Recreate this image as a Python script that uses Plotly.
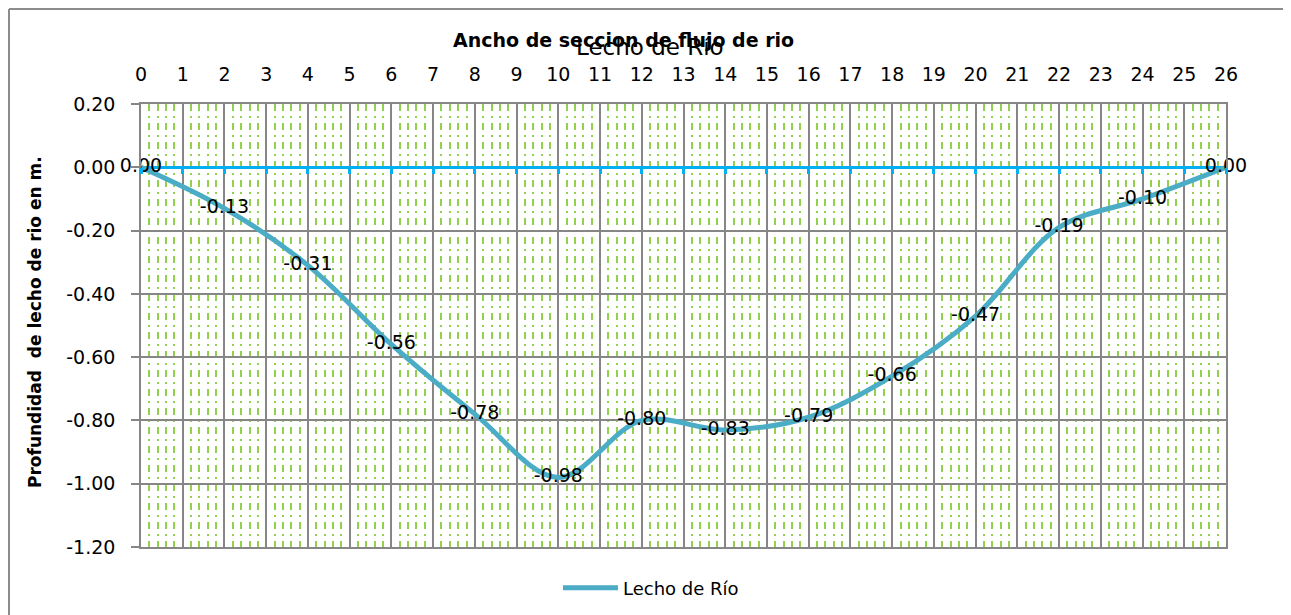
import plotly.graph_objects as go

# Data
ancho = [0, 2, 4, 6, 8, 10, 12, 14, 16, 18, 20, 22, 24, 26]
profundidad = [0.00, -0.13, -0.31, -0.56, -0.78, -0.98, -0.80, -0.83, -0.79, -0.66, -0.47, -0.19, -0.10, 0.00]
y_ticks = [0.2, 0.0, -0.2, -0.4, -0.6, -0.8, -1.0, -1.2]
y_tick_labels = ["0.20", "0.00", "-0.20", "-0.40", "-0.60", "-0.80", "-1.00", "-1.20"]
x_ticks = list(range(0, 27))
x_tick_labels = [str(v) for v in x_ticks]
serie_nombre = "Lecho de Río"
titulo = "Lecho de Río"
titulo_x = "Ancho de seccion de flujo de rio"
titulo_y = "Profundidad  de lecho de rio en m."

OFF = 8  # page body margin
W, H = 1291, 615
L, R, T, B = 141 - OFF, 1226 - OFF, 104 - OFF, 547 - OFF
PW, PH = R - L, B - T

def px_x(p):
    return (p - OFF - L) / PW

def px_y(p):
    return (B - (p - OFF)) / PH

FONT = "DejaVu Sans"
GRAY = "#868686"
BLUE = "#00B0F0"
TEAL = "#4BACC6"
GREEN = "#92D050"

fig = go.Figure()

fig.add_trace(go.Scatter(
    x=ancho, y=profundidad, name=serie_nombre,
    mode="lines+text",
    line=dict(color=TEAL, width=5, shape="spline", smoothing=1.0),
    text=[f"{v:.2f}" for v in profundidad],
    textposition="middle center",
    textfont=dict(family=FONT, size=19, color="#000000"),
    cliponaxis=False,
))

# invisible trace to carry the tick axis at y=0
fig.add_trace(go.Scatter(
    x=ancho, y=profundidad, xaxis="x2", mode="lines",
    line=dict(color="rgba(0,0,0,0)", width=0), showlegend=False, hoverinfo="skip",
))

fig.update_layout(
    width=W, height=H,
    margin=dict(l=L, r=W - R, t=T, b=H - B),
    paper_bgcolor="white", plot_bgcolor="white",
    font=dict(family=FONT, size=18, color="#000000"),
    showlegend=True,
    legend=dict(orientation="h", x=px_x(651), xanchor="center", y=px_y(588), yanchor="middle",
                font=dict(family=FONT, size=18), itemwidth=55),
    xaxis=dict(
        range=[0, 26], side="top", tickvals=x_ticks, ticktext=x_tick_labels,
        showgrid=True, gridcolor=GRAY, gridwidth=1.5,
        showline=True, mirror=True, linecolor=GRAY, linewidth=1.5,
        ticks="outside", ticklen=14, tickcolor="rgba(0,0,0,0)",
        tickfont=dict(family=FONT, size=19),
        zeroline=False,
        minor=dict(dtick=0.2, tick0=0, showgrid=True, gridcolor=GREEN, gridwidth=2,
                   griddash="7px,5px,2px,5px"),
    ),
    xaxis2=dict(
        matches="x", overlaying="x", side="bottom", anchor="free", position=1.2 / 1.4,
        dtick=1, tick0=0, showgrid=False, showline=False, zeroline=False,
        ticks="outside", ticklen=6, tickwidth=3, tickcolor=BLUE, showticklabels=False,
    ),
    yaxis=dict(
        range=[-1.2, 0.2], tickvals=y_ticks, ticktext=y_tick_labels,
        showgrid=True, gridcolor=GRAY, gridwidth=1.5,
        showline=True, mirror=True, linecolor=GRAY, linewidth=1.5,
        ticks="outside", ticklen=8, tickcolor=GRAY, tickwidth=1.5,
        ticklabelstandoff=12,
        tickfont=dict(family=FONT, size=19),
        zeroline=True, zerolinecolor=BLUE, zerolinewidth=3,
    ),
    annotations=[
        dict(text=f"<b>{titulo_x}</b>", xref="paper", yref="paper", x=px_x(623), y=px_y(40),
             xanchor="center", yanchor="middle", showarrow=False, font=dict(family=FONT, size=19)),
        dict(text=titulo, xref="paper", yref="paper", x=px_x(650), y=px_y(47),
             xanchor="center", yanchor="middle", showarrow=False, font=dict(family=FONT, size=23)),
        dict(text=f"<b>{titulo_y}</b>", xref="paper", yref="paper", x=px_x(35), y=px_y(322),
             xanchor="center", yanchor="middle", showarrow=False, textangle=-90,
             font=dict(family=FONT, size=17)),
    ],
    shapes=[
        dict(type="line", xref="paper", yref="paper", x0=px_x(9), x1=px_x(9),
             y0=px_y(9), y1=px_y(700), line=dict(color="#8c8c8c", width=2)),
        dict(type="line", xref="paper", yref="paper", x0=px_x(9), x1=px_x(1400),
             y0=px_y(9), y1=px_y(9), line=dict(color="#8c8c8c", width=2)),
    ],
)

fig.write_html("out.html")
